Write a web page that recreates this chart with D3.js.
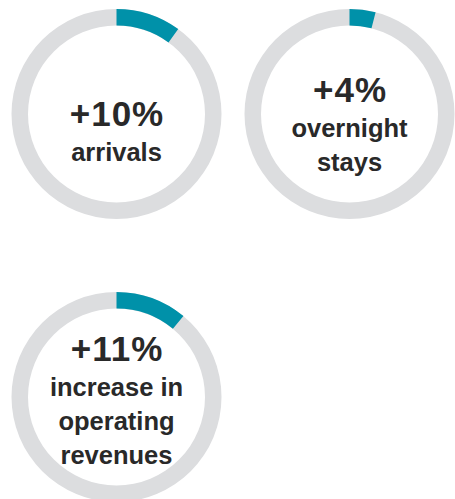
<!DOCTYPE html>
<html>
<head>
<meta charset="utf-8">
<script src="https://cdn.jsdelivr.net/npm/d3@7/dist/d3.min.js"></script>
<style>
  html, body { margin: 0; padding: 0; background: #ffffff; }
  svg { display: block; }
  text { font-family: "Liberation Sans", Arial, Helvetica, sans-serif; font-weight: bold; fill: #292929; }
</style>
</head>
<body>
<svg id="chart" width="455" height="499"></svg>
<script>
// Growth figures, one ring per metric
const valueLabels = ["+10%", "+4%", "+11%"];
const values = [10, 4, 11];
const captions = [
  ["arrivals"],
  ["overnight", "stays"],
  ["increase in", "operating", "revenues"]
];
const scaleMax = 100;

const W = 455, H = 499;
const svg = d3.select("#chart");

// Grid placement: two rings per row
const col = d3.scalePoint().domain([0, 1]).range([116.5, 349.5]);
const row = d3.scalePoint().domain([0, 1]).range([114, 397]);

const outerR = 105, innerR = 88.5;
const angle = d3.scaleLinear().domain([0, scaleMax]).range([0, 2 * Math.PI]);
const arc = d3.arc().innerRadius(innerR).outerRadius(outerR);

const items = values.map((v, i) => ({
  value: v,
  label: valueLabels[i],
  caption: captions[i],
  cx: col(i % 2),
  cy: row(Math.floor(i / 2))
}));

const g = svg.selectAll("g.ring")
  .data(items)
  .join("g")
  .attr("class", "ring")
  .attr("transform", d => `translate(${d.cx},${d.cy})`);

// Full track
g.append("path")
  .attr("d", arc({ startAngle: 0, endAngle: 2 * Math.PI }))
  .attr("fill", "#dcdddf");

// Value segment from 12 o'clock
g.append("path")
  .attr("d", d => arc({ startAngle: angle(0), endAngle: angle(d.value) }))
  .attr("fill", "#0091a9");

// Centered text block
const valueSize = 35, capSize = 25.5, lineH = 34;
g.each(function(d) {
  const n = d.caption.length;
  const base = 12 - (n - 1) * 24;
  const sel = d3.select(this);
  sel.append("text")
    .attr("text-anchor", "middle")
    .attr("y", base)
    .attr("x", 0.5)
    .attr("font-size", valueSize)
    .attr("letter-spacing", 1)
    .text(d.label);
  sel.selectAll("text.cap")
    .data(d.caption)
    .join("text")
    .attr("class", "cap")
    .attr("text-anchor", "middle")
    .attr("y", (c, j) => base + 35 + j * lineH)
    .attr("font-size", capSize)
    .text(c => c);
});
</script>
</body>
</html>
